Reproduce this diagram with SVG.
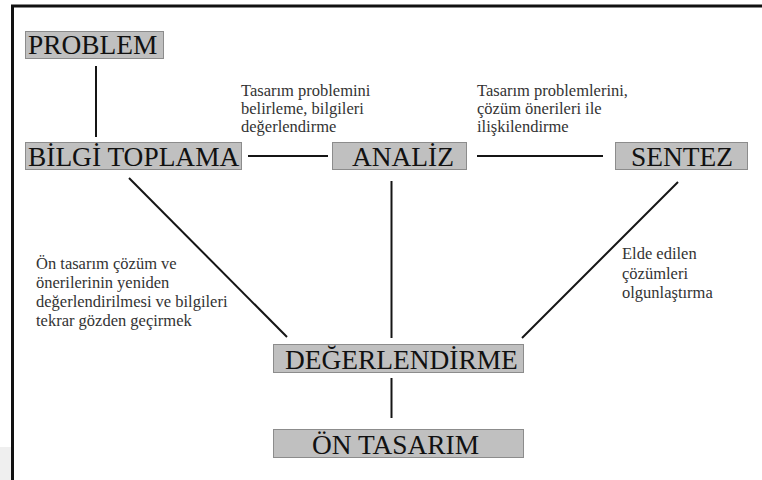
<svg xmlns="http://www.w3.org/2000/svg" width="762" height="480" viewBox="0 0 762 480">
  <style>
    .box { fill: #c0c0c0; stroke: #8c8c8c; stroke-width: 1; }
    .title { font-family: "Liberation Serif", "Times New Roman", Times, "DejaVu Serif", serif; font-size: 27.4px; fill: #111; }
    .note { font-family: "Liberation Serif", "Times New Roman", Times, "DejaVu Serif", serif; font-size: 16.5px; fill: #333; }
    .link { stroke: #151515; stroke-width: 2; fill: none; }
  </style>
  <rect width="762" height="480" fill="#ffffff"/>
  <rect x="0" y="447" width="11" height="33" fill="#efefef"/>
  <!-- outer frame, running past the right and bottom edges -->
  <rect x="12.5" y="6" width="800" height="500" fill="none" stroke="#111" stroke-width="3"/>

  <g id="connectors">
    <line class="link" x1="96" y1="66" x2="96" y2="137"/>
    <line class="link" x1="248" y1="156" x2="328" y2="156"/>
    <line class="link" x1="477" y1="156" x2="603" y2="156"/>
    <line class="link" x1="129" y1="178" x2="287" y2="337"/>
    <line class="link" x1="391.5" y1="181" x2="391.5" y2="338"/>
    <line class="link" x1="678" y1="182" x2="522" y2="338"/>
    <line class="link" x1="391.5" y1="378" x2="391.5" y2="418"/>
  </g>

  <g id="problem">
    <rect class="box" x="25.5" y="31.5" width="138" height="27"/>
    <text class="title" x="28" y="54">PROBLEM</text>
  </g>
  <g id="bilgi-toplama">
    <rect class="box" x="25.5" y="142.5" width="216" height="27"/>
    <text class="title" x="28" y="166">BİLGİ TOPLAMA</text>
  </g>
  <g id="analiz">
    <rect class="box" x="332.5" y="142.5" width="134" height="27"/>
    <text class="title" x="352" y="166">ANALİZ</text>
  </g>
  <g id="sentez">
    <rect class="box" x="615.5" y="142.5" width="132" height="27"/>
    <text class="title" x="631" y="166">SENTEZ</text>
  </g>
  <g id="degerlendirme">
    <rect class="box" x="273.5" y="344.5" width="250" height="28"/>
    <text class="title" x="285" y="369">DEĞERLENDİRME</text>
  </g>
  <g id="on-tasarim">
    <rect class="box" x="273.5" y="429.5" width="250" height="28"/>
    <text class="title" x="312" y="454">ÖN TASARIM</text>
  </g>

  <g id="notes">
    <text class="note" x="241" y="96">
      <tspan x="241">Tasarım problemini</tspan>
      <tspan x="241" dy="18">belirleme, bilgileri</tspan>
      <tspan x="241" dy="18">değerlendirme</tspan>
    </text>
    <text class="note" x="477" y="96">
      <tspan x="477">Tasarım problemlerini,</tspan>
      <tspan x="477" dy="18">çözüm önerileri ile</tspan>
      <tspan x="477" dy="18">ilişkilendirme</tspan>
    </text>
    <text class="note" x="36" y="269">
      <tspan x="36">Ön tasarım çözüm ve</tspan>
      <tspan x="36" dy="19">önerilerinin yeniden</tspan>
      <tspan x="36" dy="19">değerlendirilmesi ve bilgileri</tspan>
      <tspan x="36" dy="19">tekrar gözden geçirmek</tspan>
    </text>
    <text class="note" x="622" y="259">
      <tspan x="622">Elde edilen</tspan>
      <tspan x="622" dy="19.5">çözümleri</tspan>
      <tspan x="622" dy="19.5">olgunlaştırma</tspan>
    </text>
  </g>
</svg>
